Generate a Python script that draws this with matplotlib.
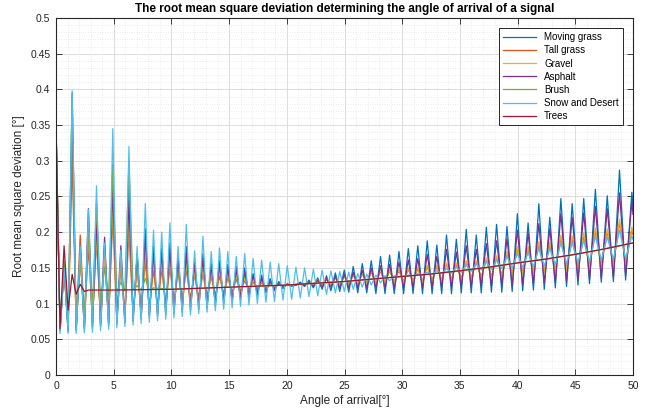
import matplotlib
matplotlib.use('Agg')
import matplotlib.pyplot as plt
from matplotlib.ticker import MultipleLocator, FuncFormatter

plt.rcParams['font.family'] = ['Liberation Sans', 'DejaVu Sans']

# angles of the local maxima / minima (degrees)
angle = [0.00, 0.35, 0.70, 1.05, 1.40, 1.75, 2.10, 2.46, 2.81, 3.16,
         3.51, 3.86, 4.21, 4.56, 4.92, 5.27, 5.62, 5.97, 6.32, 6.68,
         7.03, 7.38, 7.74, 8.09, 8.45, 8.80, 9.16, 9.51, 9.87, 10.22,
         10.58, 10.94, 11.29, 11.65, 12.01, 12.37, 12.73, 13.09, 13.45, 13.81,
         14.17, 14.53, 14.89, 15.26, 15.62, 15.99, 16.35, 16.72, 17.08, 17.45,
         17.82, 18.19, 18.56, 18.93, 19.30, 19.67, 20.04, 20.42, 20.79, 21.17,
         21.54, 21.92, 22.30, 22.68, 23.06, 23.44, 23.82, 24.21, 24.59, 24.98,
         25.37, 25.76, 26.15, 26.54, 26.93, 27.32, 27.72, 28.12, 28.51, 28.91,
         29.31, 29.72, 30.12, 30.53, 30.94, 31.35, 31.76, 32.17, 32.59, 33.00,
         33.42, 33.84, 34.27, 34.69, 35.12, 35.55, 35.98, 36.42, 36.85, 37.29,
         37.73, 38.18, 38.63, 39.08, 39.53, 39.98, 40.44, 40.91, 41.37, 41.84,
         42.31, 42.79, 43.27, 43.75, 44.24, 44.73, 45.23, 45.73, 46.23, 46.74,
         47.25, 47.77, 48.30, 48.83, 49.36, 49.90, 50.00]

moving_grass = [0.350, 0.062, 0.150, 0.061, 0.395, 0.062, 0.175, 0.063, 0.215, 0.065,
                0.240, 0.067, 0.180, 0.069, 0.295, 0.071, 0.165, 0.073, 0.270, 0.075,
                0.170, 0.078, 0.205, 0.080, 0.180, 0.082, 0.178, 0.084, 0.185, 0.086,
                0.165, 0.088, 0.180, 0.090, 0.158, 0.092, 0.170, 0.094, 0.157, 0.097,
                0.160, 0.100, 0.155, 0.103, 0.152, 0.106, 0.150, 0.109, 0.142, 0.112,
                0.140, 0.115, 0.135, 0.118, 0.131, 0.121, 0.128, 0.124, 0.126, 0.130,
                0.124, 0.133, 0.122, 0.136, 0.120, 0.139, 0.118, 0.143, 0.117, 0.147,
                0.116, 0.152, 0.115, 0.156, 0.115, 0.160, 0.114, 0.166, 0.114, 0.168,
                0.114, 0.173, 0.114, 0.177, 0.114, 0.181, 0.114, 0.188, 0.114, 0.182,
                0.114, 0.196, 0.114, 0.190, 0.115, 0.204, 0.115, 0.196, 0.115, 0.207,
                0.116, 0.211, 0.116, 0.208, 0.117, 0.226, 0.118, 0.213, 0.119, 0.240,
                0.120, 0.221, 0.122, 0.247, 0.124, 0.240, 0.126, 0.247, 0.128, 0.260,
                0.130, 0.251, 0.131, 0.287, 0.133, 0.256, 0.235]

tall_grass = [0.350, 0.066, 0.150, 0.068, 0.300, 0.070, 0.196, 0.073, 0.180, 0.076,
              0.190, 0.078, 0.160, 0.080, 0.220, 0.082, 0.150, 0.084, 0.200, 0.086,
              0.148, 0.089, 0.160, 0.093, 0.148, 0.097, 0.148, 0.101, 0.150, 0.104,
              0.143, 0.107, 0.147, 0.108, 0.140, 0.109, 0.142, 0.110, 0.138, 0.112,
              0.138, 0.114, 0.136, 0.116, 0.134, 0.118, 0.132, 0.120, 0.130, 0.121,
              0.129, 0.122, 0.128, 0.123, 0.127, 0.124, 0.126, 0.126, 0.126, 0.128,
              0.126, 0.130, 0.126, 0.132, 0.126, 0.134, 0.127, 0.136, 0.127, 0.138,
              0.128, 0.140, 0.128, 0.142, 0.129, 0.144, 0.129, 0.146, 0.130, 0.146,
              0.131, 0.146, 0.131, 0.148, 0.132, 0.149, 0.132, 0.152, 0.133, 0.152,
              0.133, 0.155, 0.134, 0.155, 0.135, 0.158, 0.136, 0.158, 0.137, 0.161,
              0.138, 0.164, 0.140, 0.170, 0.142, 0.177, 0.143, 0.177, 0.144, 0.184,
              0.145, 0.183, 0.147, 0.192, 0.148, 0.191, 0.150, 0.195, 0.151, 0.202,
              0.153, 0.201, 0.154, 0.214, 0.156, 0.204, 0.197]

gravel = [0.350, 0.064, 0.150, 0.064, 0.330, 0.066, 0.170, 0.068, 0.200, 0.070,
          0.200, 0.072, 0.170, 0.074, 0.240, 0.076, 0.160, 0.078, 0.220, 0.081,
          0.155, 0.083, 0.175, 0.085, 0.160, 0.087, 0.160, 0.089, 0.163, 0.091,
          0.152, 0.093, 0.158, 0.095, 0.147, 0.097, 0.152, 0.099, 0.145, 0.102,
          0.147, 0.105, 0.143, 0.108, 0.141, 0.111, 0.138, 0.114, 0.135, 0.117,
          0.132, 0.119, 0.130, 0.121, 0.128, 0.123, 0.127, 0.125, 0.127, 0.128,
          0.128, 0.131, 0.127, 0.133, 0.127, 0.135, 0.127, 0.137, 0.126, 0.139,
          0.126, 0.141, 0.127, 0.143, 0.128, 0.145, 0.129, 0.147, 0.129, 0.147,
          0.130, 0.148, 0.130, 0.150, 0.130, 0.151, 0.131, 0.154, 0.131, 0.154,
          0.132, 0.157, 0.132, 0.157, 0.133, 0.160, 0.134, 0.160, 0.135, 0.164,
          0.136, 0.167, 0.138, 0.173, 0.140, 0.180, 0.141, 0.180, 0.142, 0.187,
          0.143, 0.186, 0.145, 0.196, 0.146, 0.195, 0.148, 0.199, 0.149, 0.206,
          0.151, 0.205, 0.152, 0.218, 0.154, 0.207, 0.200]

asphalt = [0.350, 0.063, 0.150, 0.063, 0.350, 0.064, 0.170, 0.066, 0.233, 0.068,
           0.215, 0.070, 0.193, 0.072, 0.265, 0.074, 0.181, 0.076, 0.245, 0.079,
           0.168, 0.081, 0.195, 0.084, 0.172, 0.086, 0.172, 0.089, 0.176, 0.091,
           0.160, 0.094, 0.170, 0.096, 0.154, 0.098, 0.163, 0.100, 0.152, 0.102,
           0.155, 0.105, 0.150, 0.107, 0.147, 0.110, 0.144, 0.113, 0.139, 0.116,
           0.135, 0.118, 0.131, 0.121, 0.128, 0.123, 0.127, 0.126, 0.126, 0.129,
           0.125, 0.131, 0.124, 0.133, 0.123, 0.135, 0.123, 0.138, 0.122, 0.141,
           0.122, 0.144, 0.122, 0.147, 0.122, 0.150, 0.122, 0.153, 0.122, 0.155,
           0.122, 0.158, 0.122, 0.161, 0.122, 0.163, 0.122, 0.169, 0.123, 0.166,
           0.123, 0.176, 0.123, 0.172, 0.124, 0.181, 0.124, 0.176, 0.125, 0.184,
           0.125, 0.188, 0.126, 0.191, 0.126, 0.203, 0.127, 0.199, 0.128, 0.212,
           0.129, 0.205, 0.130, 0.226, 0.131, 0.221, 0.133, 0.227, 0.134, 0.236,
           0.136, 0.233, 0.137, 0.255, 0.139, 0.243, 0.225]

snow_desert = [0.350, 0.058, 0.150, 0.058, 0.398, 0.058, 0.180, 0.059, 0.232, 0.060,
               0.265, 0.062, 0.185, 0.064, 0.345, 0.066, 0.175, 0.068, 0.320, 0.070,
               0.180, 0.072, 0.240, 0.074, 0.203, 0.076, 0.200, 0.078, 0.213, 0.080,
               0.180, 0.082, 0.211, 0.084, 0.174, 0.086, 0.194, 0.088, 0.173, 0.090,
               0.178, 0.092, 0.173, 0.094, 0.166, 0.096, 0.170, 0.098, 0.163, 0.100,
               0.161, 0.102, 0.158, 0.103, 0.156, 0.105, 0.153, 0.106, 0.151, 0.108,
               0.150, 0.110, 0.148, 0.111, 0.147, 0.113, 0.146, 0.115, 0.145, 0.117,
               0.144, 0.120, 0.142, 0.123, 0.141, 0.126, 0.140, 0.129, 0.139, 0.132,
               0.139, 0.138, 0.138, 0.140, 0.139, 0.142, 0.140, 0.144, 0.141, 0.146,
               0.142, 0.149, 0.143, 0.151, 0.144, 0.154, 0.145, 0.156, 0.147, 0.159,
               0.148, 0.161, 0.149, 0.166, 0.150, 0.170, 0.151, 0.171, 0.152, 0.177,
               0.153, 0.177, 0.155, 0.185, 0.156, 0.185, 0.158, 0.188, 0.159, 0.194,
               0.161, 0.193, 0.162, 0.203, 0.163, 0.195, 0.190]

# brush and trees settle onto a smooth curve, so fewer points are needed
brush_angle = angle[:25] + [10, 12.5, 15, 17.5, 20, 22.5, 25, 27.5, 30,
                            32.5, 35, 37.5, 40, 42.5, 45, 47.5, 50]
brush = [0.350, 0.063, 0.160, 0.070, 0.390, 0.075, 0.160, 0.086, 0.200, 0.095,
         0.240, 0.103, 0.150, 0.111, 0.290, 0.116, 0.130, 0.118, 0.300, 0.119,
         0.125, 0.119, 0.135, 0.119, 0.122,
         0.120, 0.1215, 0.123, 0.1245, 0.126, 0.1285, 0.131, 0.1345, 0.138,
         0.1415, 0.146, 0.151, 0.157, 0.1625, 0.169, 0.1765, 0.185]

trees_angle = angle[:9] + [5, 10, 12.5, 15, 17.5, 20, 22.5, 25, 27.5, 30,
                           32.5, 35, 37.5, 40, 42.5, 45, 47.5, 50]
trees = [0.350, 0.065, 0.181, 0.091, 0.141, 0.113, 0.127, 0.117, 0.119,
         0.119, 0.120, 0.1215, 0.123, 0.1245, 0.126, 0.1285, 0.131, 0.1345, 0.138,
         0.1415, 0.146, 0.151, 0.157, 0.1625, 0.169, 0.1765, 0.185]

series = [
    ('Moving grass', angle, moving_grass, '#0072BD'),
    ('Tall grass', angle, tall_grass, '#D95319'),
    ('Gravel', angle, gravel, '#EDB120'),
    ('Asphalt', angle, asphalt, '#7E2F8E'),
    ('Brush', brush_angle, brush, '#77AC30'),
    ('Snow and Desert', angle, snow_desert, '#4DBEEE'),
    ('Trees', trees_angle, trees, '#A2142F'),
]

fig = plt.figure(figsize=(6.6, 4.18), dpi=100)
ax = fig.add_axes([56 / 660, 1 - 375 / 418, 577 / 660, 357 / 418])

for name, x, y, color in series:
    ax.plot(x, y, color=color, lw=0.9, label=name)

ax.set_xlim(0, 50)
ax.set_ylim(0, 0.5)
ax.xaxis.set_major_locator(MultipleLocator(5))
ax.xaxis.set_minor_locator(MultipleLocator(1))
ax.yaxis.set_major_locator(MultipleLocator(0.05))
ax.yaxis.set_minor_locator(MultipleLocator(0.01))
ax.yaxis.set_major_formatter(FuncFormatter(lambda v, _: f'{v:g}'))

ax.set_axisbelow(True)
ax.grid(which='major', color='#dcdcdc', lw=0.7)
ax.grid(which='minor', color='#dadada', lw=0.5, linestyle=(0, (1, 2.5)))

ax.tick_params(which='both', direction='in', top=True, right=True,
               labelsize=7.5, colors='#262626')
ax.tick_params(which='major', length=4, width=0.6, pad=4)
ax.tick_params(which='minor', length=0)
for sp in ax.spines.values():
    sp.set_color('#262626')
    sp.set_linewidth(0.8)

ax.set_title('The root mean square deviation determining the angle of arrival of a signal',
             fontsize=8.5, fontweight='bold', pad=4)
ax.set_xlabel('Angle of arrival[°]', fontsize=8.5, color='#262626', labelpad=3)
ax.set_ylabel('Root mean square deviation [°]', fontsize=8.5, color='#262626', labelpad=4)

leg = ax.legend(loc='upper right', bbox_to_anchor=(0.983, 0.972), borderaxespad=0,
                fontsize=7, handlelength=3.4, labelspacing=0.32, borderpad=0.45,
                fancybox=False, framealpha=1, edgecolor='#262626')
leg.get_frame().set_linewidth(0.7)

fig.savefig('out.png', dpi=100)
